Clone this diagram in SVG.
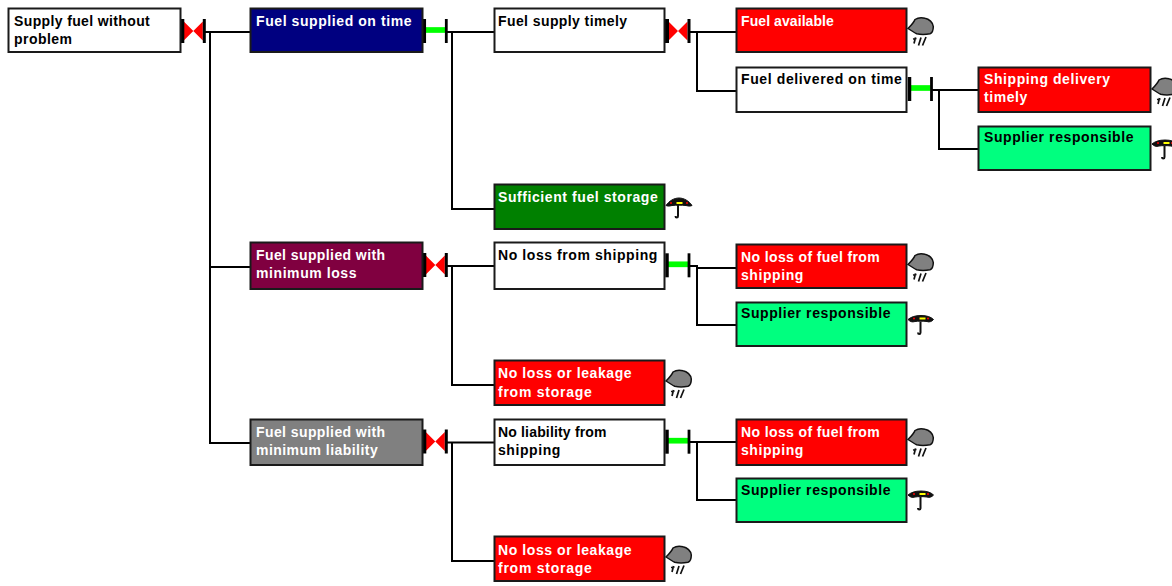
<svg xmlns="http://www.w3.org/2000/svg" width="1172" height="586" viewBox="0 0 1172 586">
<style>
.n{stroke:#1a1a1a;stroke-width:2}
.t{font:bold 14px "Liberation Sans",Arial,sans-serif;letter-spacing:.58px}
.k{fill:#000}.w{fill:#fff}
.c{fill:none;stroke:#000;stroke-width:2}
.bar{fill:none;stroke:#000}
</style>
<defs>
<g id="or"><path d="M1.500 -9.500L11 0L1.500 9.500ZM20.500 -9.500L11 0L20.500 9.500Z" fill="#f00" stroke="none"/><path d="M0 -12V12" class="bar" stroke-width="4"/><path d="M22 -12V12" class="bar" stroke-width="3"/></g>
<g id="and"><path d="M1 -1H21" fill="none" stroke="#0f0" stroke-width="5.700"/><path d="M0 -12V12" class="bar" stroke-width="3.500"/><path d="M22 -12V12" class="bar" stroke-width="2.800"/></g>
<g id="cloud"><path d="M0 11C3 8 6 5 7 2C10 0 14 0 17 0.700C21 1.500 25 5 25.300 9C25.300 13 24 15.500 22 16.300C18 17 12 17 8.700 16.300C6 15 3 13 0 11Z" fill="#808080" stroke="#111" stroke-width="1.500"/><path d="M7.500 20L6 26M5 21.500L8.500 21M13 20L10.500 28M18 19.500L14.500 28" fill="none" stroke="#111" stroke-width="1.700"/></g>
<g id="umb"><path d="M0 7.500C3 3 8 0 13 0C18 0 23 3 26 7.500C24 8.500 22 8 20 7.500C15 7 11 7 6 7.500C4 8 2 8.500 0 7.500Z" fill="#111" stroke="#111"/><path d="M12 7V18C12 20 9.500 20 9.500 18" fill="none" stroke="#111" stroke-width="2"/><rect x="10.500" y="4" width="6" height="2" fill="#ff0"/><circle cx="5" cy="5" r="1" fill="#f00"/><circle cx="21" cy="5" r="1" fill="#f00"/></g>
<g id="umb2"><path d="M0 4C3 1.500 7 0 13 0C19 0 23 1.500 25.500 4C24 6 21 7 19 6C15 5.500 10 5.500 7 6C4 7 2 6 0 4Z" fill="#111" stroke="#111"/><path d="M12.500 6V17C12.500 19 10 19 10 17" fill="none" stroke="#111" stroke-width="2"/><rect x="11.500" y="2" width="6" height="2" fill="#ff0"/><circle cx="6" cy="3" r="1" fill="#f00"/><circle cx="20" cy="3" r="1" fill="#f00"/></g>
</defs>
<g id="connectors">
<path class="c" d="M204 32H250M210 32V443H250M210 267H250"/>
<path class="c" d="M446 32H494M452 32V209H494"/>
<path class="c" d="M688 32H736M697 32V91H736"/>
<path class="c" d="M932 90H978M939 90V149H978"/>
<path class="c" d="M446 266H494M452 266V385H494"/>
<path class="c" d="M688 266H697V268H736M697 268V325H736"/>
<path class="c" d="M446 442.500H494M452 442.500V561H494"/>
<path class="c" d="M688 442H736M697 442V500H736"/>
<use href="#or" x="182.300" y="31"/>
<use href="#and" x="424.300" y="31"/>
<use href="#or" x="667" y="31"/>
<use href="#and" x="909.500" y="89"/>
<use href="#or" x="424.300" y="265"/>
<use href="#and" x="667" y="265.300"/>
<use href="#or" x="424.300" y="441.500"/>
<use href="#and" x="667" y="441.700"/>
</g>
<g id="n1"><rect class="n" x="8.500" y="8.500" width="172" height="43.500" fill="#fff"/><text class="t k"><tspan x="14" y="26" style="letter-spacing:.37px">Supply fuel without</tspan><tspan x="14" y="44" style="letter-spacing:.45px">problem</tspan></text></g>
<g id="n2"><rect class="n" x="250.500" y="8.500" width="172" height="43.500" fill="#000080"/><text class="t w"><tspan x="256" y="26">Fuel supplied on time</tspan></text></g>
<g id="n3"><rect class="n" x="494.500" y="8.500" width="170" height="43.500" fill="#fff"/><text class="t k"><tspan x="498" y="26" style="letter-spacing:.41px">Fuel supply timely</tspan></text></g>
<g id="n4"><rect class="n" x="736.500" y="8.500" width="170" height="43.500" fill="#f00"/><text class="t w"><tspan x="741" y="26" style="letter-spacing:.08px">Fuel available</tspan></text><use href="#cloud" x="908" y="17.500"/></g>
<g id="n5"><rect class="n" x="736.500" y="67.500" width="170" height="44.500" fill="#fff"/><text class="t k"><tspan x="741" y="84" style="letter-spacing:.62px">Fuel delivered on time</tspan></text></g>
<g id="n6"><rect class="n" x="978.500" y="67.500" width="172" height="44.500" fill="#f00"/><text class="t w"><tspan x="984" y="84">Shipping delivery</tspan><tspan x="984" y="102">timely</tspan></text><use href="#cloud" x="1152" y="78"/></g>
<g id="n7"><rect class="n" x="978.500" y="126.500" width="172" height="43.500" fill="#00ff7f"/><text class="t k"><tspan x="984" y="142">Supplier responsible</tspan></text><use href="#umb2" x="1152" y="140"/></g>
<g id="n8"><rect class="n" x="494.500" y="184.500" width="170" height="44.500" fill="#008000"/><text class="t w"><tspan x="498" y="202">Sufficient fuel storage</tspan></text><use href="#umb" x="666" y="198"/></g>
<g id="n9"><rect class="n" x="250.500" y="242.500" width="172" height="46.500" fill="#800040"/><text class="t w"><tspan x="256" y="260" style="letter-spacing:.41px">Fuel supplied with</tspan><tspan x="256" y="278">minimum loss</tspan></text></g>
<g id="n10"><rect class="n" x="494.500" y="242.500" width="170" height="46.500" fill="#fff"/><text class="t k"><tspan x="498" y="260">No loss from shipping</tspan></text></g>
<g id="n11"><rect class="n" x="736.500" y="244.500" width="170" height="43.500" fill="#f00"/><text class="t w"><tspan x="741" y="262" style="letter-spacing:.38px">No loss of fuel from</tspan><tspan x="741" y="280">shipping</tspan></text><use href="#cloud" x="908" y="253.500"/></g>
<g id="n12"><rect class="n" x="736.500" y="302.500" width="170" height="43.500" fill="#00ff7f"/><text class="t k"><tspan x="741" y="318">Supplier responsible</tspan></text><use href="#umb2" x="908" y="315.500"/></g>
<g id="n13"><rect class="n" x="494.500" y="360.500" width="170" height="44.500" fill="#f00"/><text class="t w"><tspan x="498" y="378">No loss or leakage</tspan><tspan x="498" y="397" style="letter-spacing:.75px">from storage</tspan></text><use href="#cloud" x="666" y="370"/></g>
<g id="n14"><rect class="n" x="250.500" y="419.500" width="172" height="45.500" fill="#808080"/><text class="t w"><tspan x="256" y="437" style="letter-spacing:.41px">Fuel supplied with</tspan><tspan x="256" y="455" style="letter-spacing:.46px">minimum liability</tspan></text></g>
<g id="n15"><rect class="n" x="494.500" y="419.500" width="170" height="45.500" fill="#fff"/><text class="t k"><tspan x="498" y="437" style="letter-spacing:.17px">No liability from</tspan><tspan x="498" y="455">shipping</tspan></text></g>
<g id="n16"><rect class="n" x="736.500" y="419.500" width="170" height="45.500" fill="#f00"/><text class="t w"><tspan x="741" y="437" style="letter-spacing:.38px">No loss of fuel from</tspan><tspan x="741" y="455">shipping</tspan></text><use href="#cloud" x="908" y="428.500"/></g>
<g id="n17"><rect class="n" x="736.500" y="478.500" width="170" height="43.500" fill="#00ff7f"/><text class="t k"><tspan x="741" y="495">Supplier responsible</tspan></text><use href="#umb2" x="908" y="491"/></g>
<g id="n18"><rect class="n" x="494.500" y="536.500" width="170" height="44.500" fill="#f00"/><text class="t w"><tspan x="498" y="555">No loss or leakage</tspan><tspan x="498" y="573" style="letter-spacing:.75px">from storage</tspan></text><use href="#cloud" x="666" y="546"/></g>
</svg>
